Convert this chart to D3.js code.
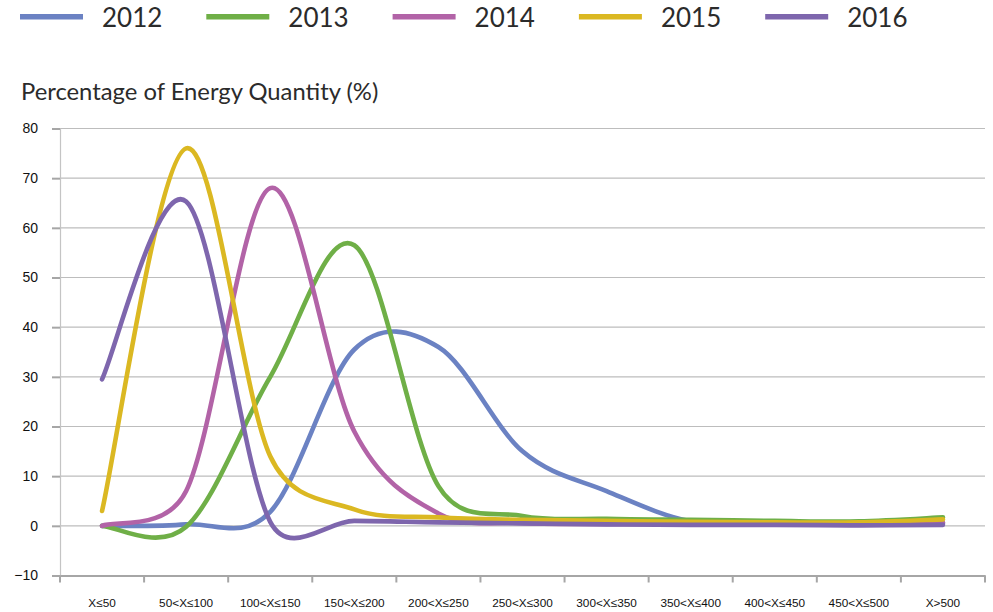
<!DOCTYPE html>
<html>
<head>
<meta charset="utf-8">
<script src="https://cdn.jsdelivr.net/npm/d3@7/dist/d3.min.js"></script>
<style>
  html, body { margin: 0; padding: 0; background: #fff; }
  svg { display: block; }
</style>
</head>
<body>
<svg id="chart" width="993" height="612"></svg>
<script>
// Energy quantity distribution by band, one line per year
const categories = ["X≤50", "50<X≤100", "100<X≤150", "150<X≤200", "200<X≤250",
  "250<X≤300", "300<X≤350", "350<X≤400", "400<X≤450", "450<X≤500", "X>500"];
const years = ["2012", "2013", "2014", "2015", "2016"];
const values2012 = [0, 0.3, 2.8, 35.5, 36, 15, 7, 0.9, 0.6, 0.4, 0.6];
const values2013 = [0, -0.2, 30, 56.5, 8, 2.0, 1.4, 1.2, 1.0, 0.9, 1.7];
const values2014 = [0, 7, 68, 19, 2.5, 0.6, 0.4, 0.4, 0.4, 0.4, 0.6];
const values2015 = [3, 76, 14, 3.3, 1.7, 1.2, 1.0, 0.8, 0.7, 0.7, 1.3];
const values2016 = [29.5, 65.3, 0.8, 1.0, 0.7, 0.5, 0.3, 0.2, 0.2, 0.1, 0.2];
const yTicks = [-10, 0, 10, 20, 30, 40, 50, 60, 70, 80];
const colors = ["#6b82c3", "#6faf47", "#b263a7", "#dbb822", "#7e66ad"];
const seriesValues = [values2012, values2013, values2014, values2015, values2016];

const svg = d3.select("#chart");

const x = d3.scaleBand().domain(categories).range([60, 985]);
const y = d3.scaleLinear().domain([-10, 80]).range([575.5, 128.5]);
const cx = c => x(c) + x.bandwidth() / 2;

// Smoothed line: Bezier segments with control points set from the
// neighbouring points, each limited to half of its segment's length.
function SmoothCurve(context) { this._context = context; }
SmoothCurve.prototype = {
  areaStart() {}, areaEnd() {},
  lineStart() { this._pts = []; },
  point(px, py) { this._pts.push([+px, +py]); },
  lineEnd() {
    const p = this._pts, c = this._context, n = p.length;
    if (!n) return;
    c.moveTo(p[0][0], p[0][1]);
    for (let i = 0; i < n - 1; i++) {
      const p0 = p[Math.max(i - 1, 0)], p1 = p[i], p2 = p[i + 1], p3 = p[Math.min(i + 2, n - 1)];
      const d12 = Math.hypot(p2[0] - p1[0], p2[1] - p1[1]);
      const d02 = Math.hypot(p2[0] - p0[0], p2[1] - p0[1]);
      const d13 = Math.hypot(p3[0] - p1[0], p3[1] - p1[1]);
      const f1 = d02 > 0 ? Math.min(1 / 6, d12 / (2 * d02)) : 0;
      const f2 = d13 > 0 ? Math.min(1 / 6, d12 / (2 * d13)) : 0;
      c.bezierCurveTo(
        p1[0] + f1 * (p2[0] - p0[0]), p1[1] + f1 * (p2[1] - p0[1]),
        p2[0] - f2 * (p3[0] - p1[0]), p2[1] - f2 * (p3[1] - p1[1]),
        p2[0], p2[1]);
    }
  }
};
const curveSmooth = context => new SmoothCurve(context);

// Horizontal gridlines
svg.append("g")
  .selectAll("line")
  .data(yTicks.filter(t => t !== -10))
  .join("line")
  .attr("x1", 60).attr("x2", 985)
  .attr("y1", d => y(d)).attr("y2", d => y(d))
  .attr("stroke", "#bdbdbd").attr("stroke-width", 1.2);

// Y axis
const yAxis = svg.append("g")
  .attr("transform", "translate(60,0)")
  .call(d3.axisLeft(y).tickValues(yTicks).tickSize(8).tickPadding(14).tickFormat(d3.format("d")));
yAxis.select(".domain").attr("stroke", "#c4c4c4").attr("stroke-width", 1.2);
yAxis.selectAll(".tick line").attr("stroke", "#a6a6a6").attr("stroke-width", 2);
yAxis.selectAll(".tick text")
  .attr("font-family", "'Liberation Sans', Arial, sans-serif")
  .attr("font-size", 14).attr("fill", "#111");

// X axis along the bottom of the plot, ticks between categories
const xAxis = svg.append("g")
  .attr("transform", `translate(0,${y(-10)})`)
  .call(d3.axisBottom(x).tickSize(0).tickPadding(0));
xAxis.select(".domain").attr("stroke", "#a6a6a6").attr("stroke-width", 2);
xAxis.selectAll(".tick text")
  .attr("font-family", "'Liberation Sans', Arial, sans-serif")
  .attr("font-size", 11.8).attr("fill", "#111")
  .attr("dy", 0).attr("y", 31);
const boundaries = categories.map(c => x(c)).concat([x(categories[categories.length - 1]) + x.bandwidth()]);
xAxis.selectAll(".sep")
  .data(boundaries)
  .join("line")
  .attr("class", "sep")
  .attr("x1", d => d).attr("x2", d => d)
  .attr("y1", 0).attr("y2", 7)
  .attr("stroke", "#a6a6a6").attr("stroke-width", 2);

// Series lines
const line = d3.line()
  .x((d, i) => cx(categories[i]))
  .y(d => y(d))
  .curve(curveSmooth);

svg.append("g")
  .selectAll("path")
  .data(seriesValues)
  .join("path")
  .attr("d", d => line(d))
  .attr("fill", "none")
  .attr("stroke", (d, i) => colors[i])
  .attr("stroke-width", 4.6)
  .attr("stroke-linecap", "round")
  .attr("stroke-linejoin", "round");

// Axis title
svg.append("text")
  .attr("x", 21).attr("y", 100)
  .attr("font-family", "Lato, 'Noto Sans', sans-serif")
  .attr("font-size", 23.8).attr("fill", "#2b2b2b")
  .text("Percentage of Energy Quantity (%)");

// Legend
const legend = svg.append("g")
  .selectAll("g")
  .data(years)
  .join("g")
  .attr("transform", (d, i) => `translate(${20 + i * 186.3},0)`);
legend.append("line")
  .attr("x1", 0).attr("x2", 63)
  .attr("y1", 16.7).attr("y2", 16.7)
  .attr("stroke", (d, i) => colors[i])
  .attr("stroke-width", 5.6);
legend.append("text")
  .attr("x", 82).attr("y", 27)
  .attr("font-family", "Lato, 'Noto Sans', sans-serif")
  .attr("font-size", 26).attr("fill", "#2b2b2b")
  .text(d => d);
</script>
</body>
</html>
